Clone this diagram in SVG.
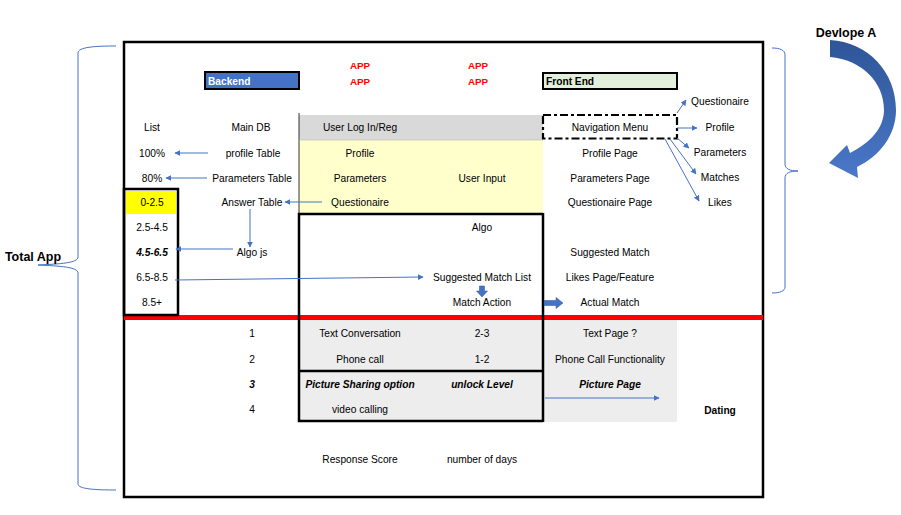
<svg xmlns="http://www.w3.org/2000/svg" width="901" height="515" viewBox="0 0 901 515">
<style>
text{font-family:"Liberation Sans",Arial,sans-serif;font-size:10.2px;fill:#000;text-anchor:middle}
.b{font-weight:bold}
.bi{font-weight:bold;font-style:italic}
.app{font-weight:bold;fill:#FF0000;font-size:9.8px}
.lbl{font-weight:bold;font-size:12.5px}
.thin{stroke:#4472C4;stroke-width:1;fill:none}
.brace{stroke:#4472C4;stroke-width:1;fill:none}
.blk{stroke:#000;stroke-width:2.5;fill:none}
</style>
<defs>
<marker id="ah" viewBox="0 0 10 10" refX="9" refY="5" markerWidth="6" markerHeight="6" orient="auto" markerUnits="userSpaceOnUse">
<path d="M0,0 L10,5 L0,10 Z" fill="#4472C4"/>
</marker>
<linearGradient id="cg" x1="0" y1="0" x2="0" y2="1">
<stop offset="0" stop-color="#2E5597"/>
<stop offset="1" stop-color="#4A78C8"/>
</linearGradient>
</defs>
<rect width="901" height="515" fill="#fff"/>

<!-- background fills -->
<g id="fills">
<rect x="299" y="115" width="244" height="25" fill="#D9D9D9"/>
<rect x="299" y="140" width="244" height="74" fill="#FFFFCC"/>
<rect x="299" y="320" width="378" height="102" fill="#EDEDED"/>
<line x1="299" y1="113" x2="299" y2="214" stroke="#000" stroke-width="0.8"/>
<line x1="299" y1="140" x2="543" y2="140" stroke="#bbb" stroke-width="0.6"/>
</g>

<!-- outer frame -->
<g id="frame">
<rect x="124" y="42" width="639" height="455" class="blk"/>
<rect x="124" y="315" width="639" height="5" fill="#FF0000"/>
<path d="M299,316 V214 H543" class="blk"/>
<path d="M299,316 V421 H543" class="blk"/>
<line x1="299" y1="371" x2="543" y2="371" stroke="#000" stroke-width="2.5"/>
<line x1="543" y1="213" x2="543" y2="422" stroke="#000" stroke-width="2.5"/>
</g>

<!-- header nodes -->
<g id="backend">
<rect x="205" y="72" width="94" height="17" fill="#4472C4" stroke="#000" stroke-width="2"/>
<text x="208" y="85" class="b" style="fill:#fff;text-anchor:start">Backend</text>
</g>
<g id="frontend">
<rect x="543" y="73" width="134" height="16" fill="#E2EFDA" stroke="#000" stroke-width="2"/>
<text x="546" y="85" class="b" style="text-anchor:start">Front End</text>
</g>
<g id="app-labels">
<text x="360" y="69" class="app">APP</text>
<text x="360" y="85" class="app">APP</text>
<text x="478" y="69" class="app">APP</text>
<text x="478" y="85" class="app">APP</text>
</g>

<!-- navigation menu -->
<g id="navigation-menu">
<rect x="543" y="115" width="134" height="23.5" fill="#fff" stroke="#000" stroke-width="2.2" stroke-dasharray="8,3,3,3"/>
<text x="610" y="131">Navigation Menu</text>
</g>

<!-- score list -->
<g id="score-list">
<rect x="126" y="191" width="50" height="23" fill="#FFFF00"/>
<rect x="124" y="189" width="54" height="126" class="blk"/>
<text x="152" y="206">0-2.5</text>
<text x="152" y="231">2.5-4.5</text>
<text x="152" y="256" class="bi">4.5-6.5</text>
<text x="152" y="281">6.5-8.5</text>
<text x="152" y="306">8.5+</text>
</g>

<!-- texts -->
<g id="backend-col">
<text x="152" y="131">List</text>
<text x="152" y="157">100%</text>
<text x="152" y="182">80%</text>
<text x="251" y="131">Main DB</text>
<text x="253" y="157">profile Table</text>
<text x="252" y="182">Parameters Table</text>
<text x="252" y="206">Answer Table</text>
<text x="252" y="256">Algo js</text>
</g>
<g id="app-col">
<text x="360" y="131">User Log In/Reg</text>
<text x="360" y="157">Profile</text>
<text x="360" y="182">Parameters</text>
<text x="482" y="182">User Input</text>
<text x="360" y="206">Questionaire</text>
<text x="482" y="231">Algo</text>
<text x="482" y="281">Suggested Match List</text>
<text x="482" y="306">Match Action</text>
</g>
<g id="front-col">
<text x="610" y="157">Profile Page</text>
<text x="610" y="182">Parameters Page</text>
<text x="610" y="206">Questionaire Page</text>
<text x="610" y="256">Suggested Match</text>
<text x="610" y="281">Likes Page/Feature</text>
<text x="610" y="306">Actual Match</text>
</g>
<g id="menu-items">
<text x="720" y="105">Questionaire</text>
<text x="720" y="131">Profile</text>
<text x="720" y="156">Parameters</text>
<text x="720" y="181">Matches</text>
<text x="720" y="206">Likes</text>
</g>
<g id="dating-section">
<text x="252" y="337">1</text>
<text x="252" y="363">2</text>
<text x="252" y="388" class="bi">3</text>
<text x="252" y="413">4</text>
<text x="360" y="337">Text Conversation</text>
<text x="360" y="363">Phone call</text>
<text x="360" y="388" class="bi">Picture Sharing option</text>
<text x="360" y="413">video calling</text>
<text x="482" y="337">2-3</text>
<text x="482" y="363">1-2</text>
<text x="482" y="388" class="bi">unlock Level</text>
<text x="610" y="337">Text Page ?</text>
<text x="610" y="363">Phone Call Functionality</text>
<text x="610" y="388" class="bi">Picture Page</text>
<text x="720" y="414" class="b">Dating</text>
<text x="360" y="463">Response Score</text>
<text x="482" y="463">number of days</text>
</g>

<!-- connectors -->
<g id="connectors">
<line x1="208" y1="153" x2="175" y2="153" class="thin" marker-end="url(#ah)"/>
<line x1="207" y1="178" x2="166" y2="178" class="thin" marker-end="url(#ah)"/>
<line x1="322" y1="202" x2="285" y2="202" class="thin" marker-end="url(#ah)"/>
<line x1="250" y1="209" x2="250" y2="247" class="thin" marker-end="url(#ah)"/>
<line x1="233" y1="249" x2="176" y2="249" class="thin" marker-end="url(#ah)"/>
<line x1="175" y1="280" x2="423" y2="277" class="thin" marker-end="url(#ah)"/>
<line x1="677" y1="113" x2="686" y2="100" class="thin" marker-end="url(#ah)"/>
<line x1="677" y1="128" x2="697" y2="128" class="thin" marker-end="url(#ah)"/>
<line x1="677" y1="138" x2="689" y2="148" class="thin" marker-end="url(#ah)"/>
<line x1="670" y1="139" x2="696" y2="174" class="thin" marker-end="url(#ah)"/>
<line x1="665" y1="139" x2="699" y2="201" class="thin" marker-end="url(#ah)"/>
<line x1="545" y1="398" x2="659" y2="398" class="thin" marker-end="url(#ah)"/>
<path d="M479.5,286 H484.5 V291 H487.5 L482,297 L476.5,291 H479.5 Z" fill="#4472C4" stroke="#2F5597" stroke-width="0.5"/>
<path d="M544,300.5 H556 V297.5 L563,303 L556,308.5 V305.5 H544 Z" fill="#4472C4" stroke="#2F5597" stroke-width="0.5"/>
</g>

<!-- braces -->
<g id="total-app">
<path d="M116,46 C95,46 78,47 78,53 V257 C78,263 60,264 38,265 C60,266 78,267 78,273 V484 C78,489 95,490 116,490" class="brace"/>
<text x="33" y="261" class="lbl">Total App</text>
</g>
<g id="devlope-a">
<path d="M772,48 C780,48 785,50 785,55 V164 C785,169 790,171 798,171 C790,171 785,173 785,178 V287 C785,291 780,293 772,293" class="brace"/>
<text x="846" y="37" class="lbl">Devlope A</text>
<path d="M830,40 C868,42 896,72 896,110 C896,135 880,156 857,167 L858,178 L829,163 L847,145 L850,153 C870,143 884,128 884,110 C884,82 862,60 830,57 Z" fill="url(#cg)"/>
</g>
</svg>
